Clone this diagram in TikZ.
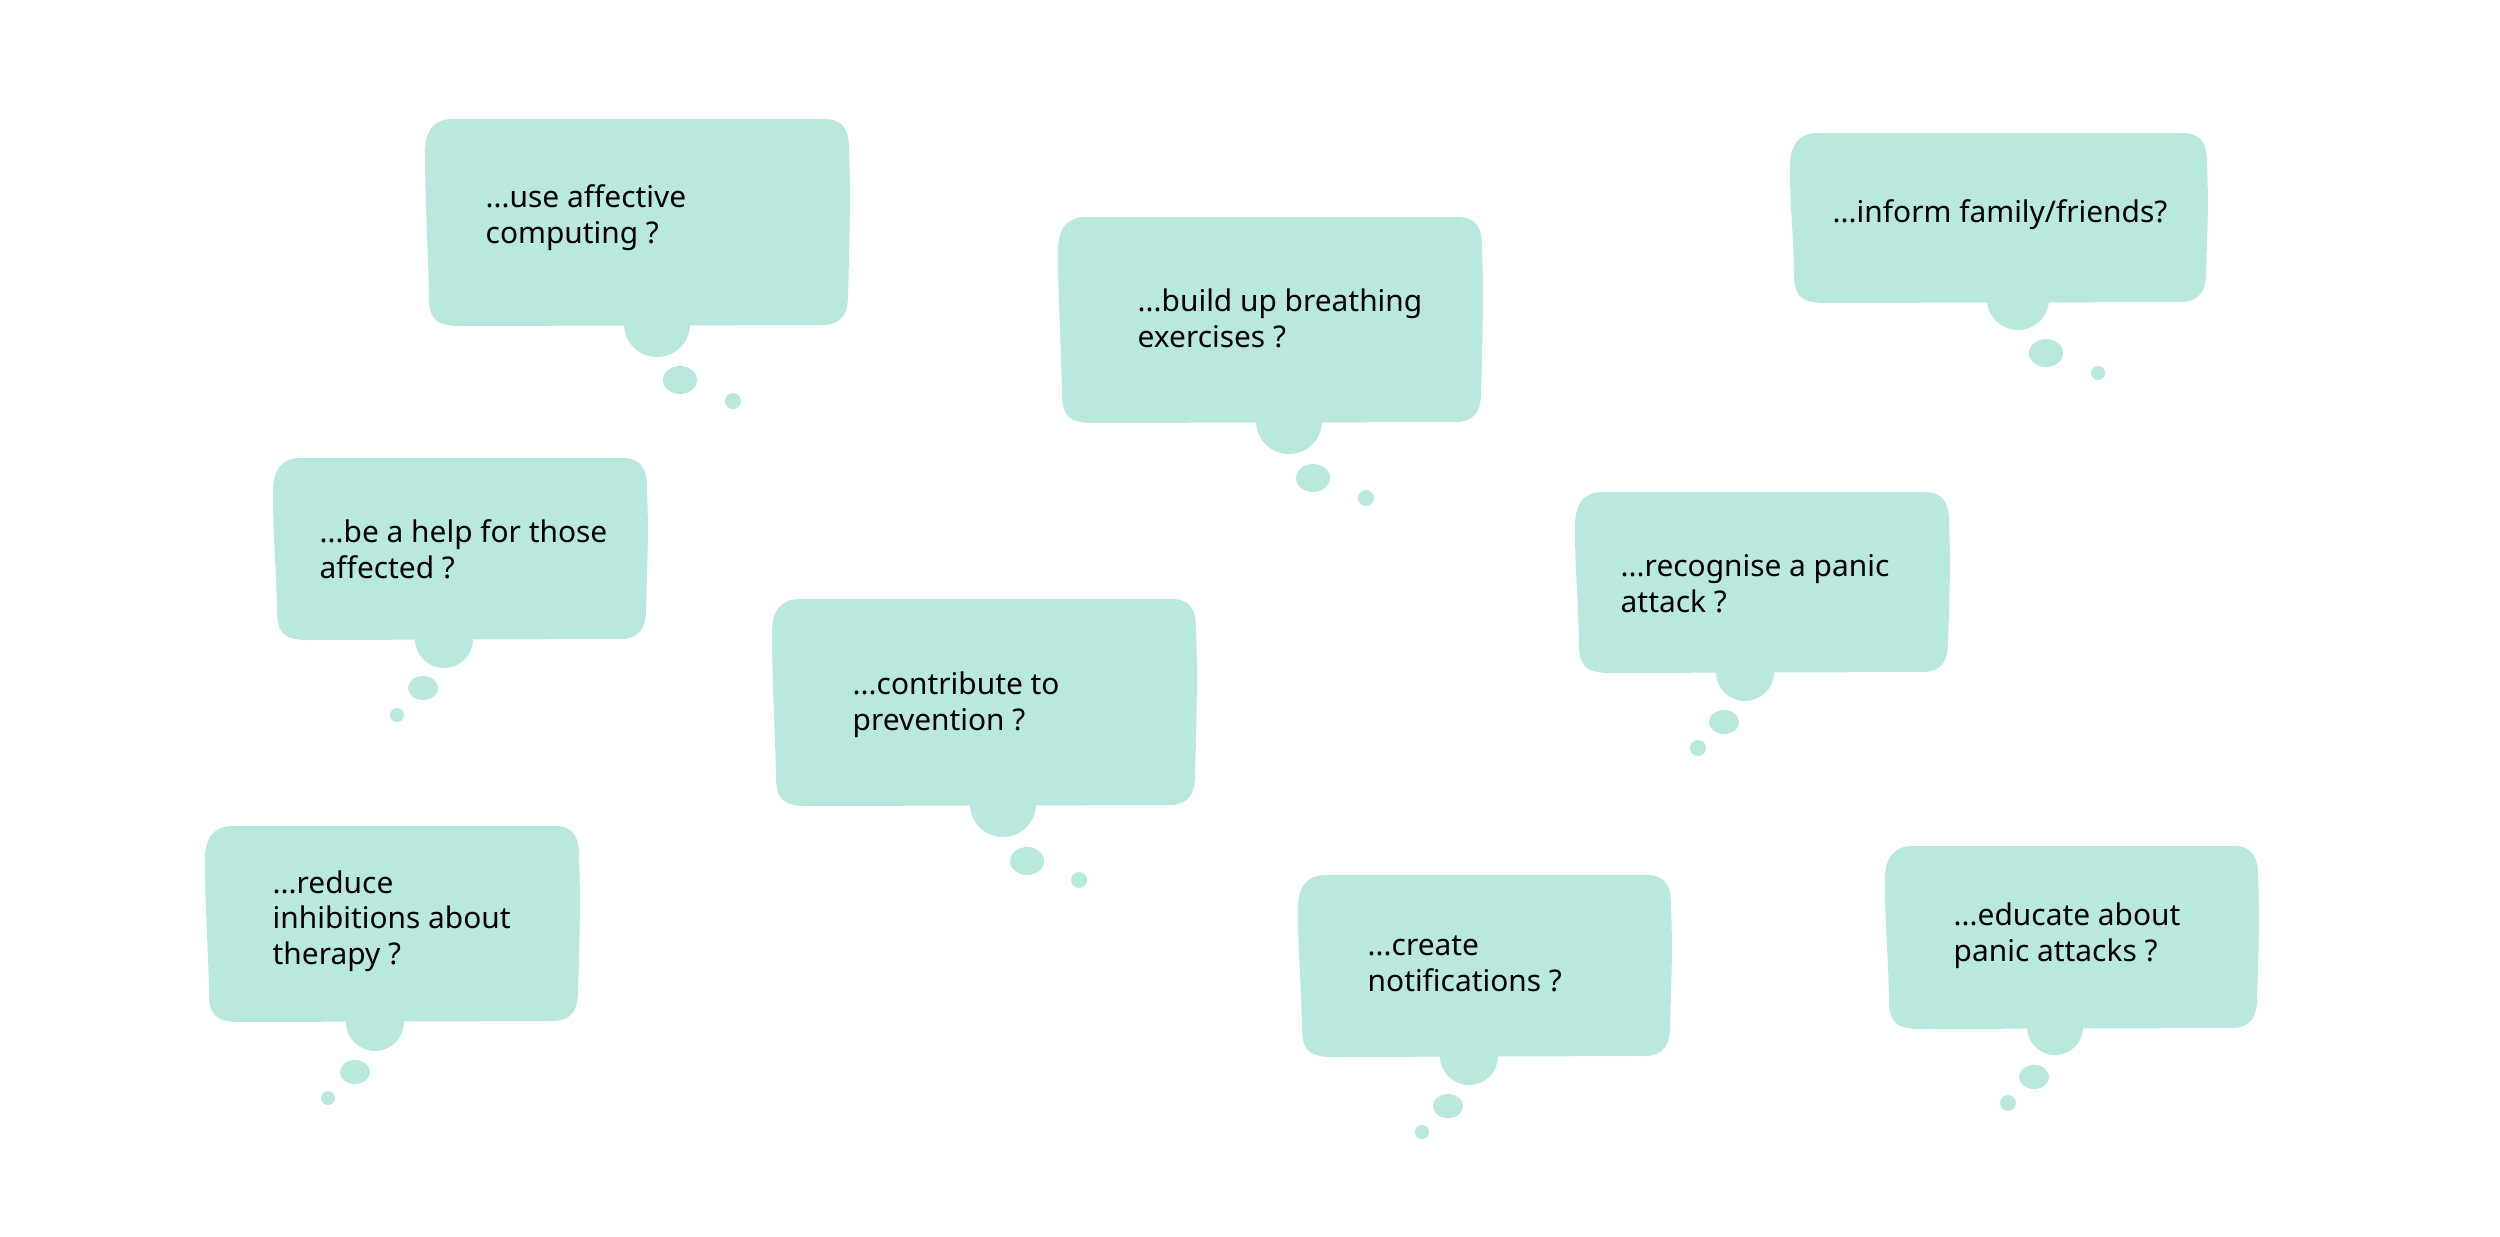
\documentclass[tikz,border=0pt]{standalone}
\usepackage{fontspec}
\setmainfont{Noto Sans}
\usepackage{tikz}
\definecolor{mint}{RGB}{185,232,222}
\tikzset{
  bubble/.style={fill=mint},
  question/.style={anchor=base west, align=left, inner sep=0pt, text=black,
                   font=\fontsize{8.5pt}{10.1pt}\selectfont}
}
\newcommand{\bubbox}[4]{%
  \fill[bubble] (#1+28,#2) -- (#3-26,#2)
    .. controls (#3-8,#2) and (#3-1,#2+9) .. (#3-1,#2+30)
    .. controls (#3+1,#2+80) and (#3-1,#4-70) .. (#3-2,#4-28)
    .. controls (#3-3,#4-6) and (#3-14,#4) .. (#3-32,#4-1)
    -- (#1+32,#4)
    .. controls (#1+10,#4-1) and (#1+4,#4-8) .. (#1+4,#4-30)
    .. controls (#1+3,#4-80) and (#1,#2+80) .. (#1,#2+34)
    .. controls (#1,#2+10) and (#1+10,#2) .. (#1+28,#2) -- cycle;}

\begin{document}
\begin{tikzpicture}[x=0.1mm, y=-0.1mm]
  \useasboundingbox (0,0) rectangle (2500,1236);

  \bubbox{425}{119}{850}{326}
  \fill[bubble] (657,324) circle[radius=33];
  \fill[bubble] (680,380) ellipse[x radius=17, y radius=14];
  \fill[bubble] (733,401) circle[radius=8];
  \node[question] (affect) at (485,243) {...use affective\\computing ?};

  \bubbox{1058}{217}{1483}{423}
  \fill[bubble] (1289,421) circle[radius=33];
  \fill[bubble] (1313,478) ellipse[x radius=17, y radius=14];
  \fill[bubble] (1366,498) circle[radius=8];
  \node[question] (breath) at (1137,347) {...build up breathing\\exercises ?};

  \bubbox{1790}{133}{2208}{303}
  \fill[bubble] (2018,299) circle[radius=31];
  \fill[bubble] (2046,353) ellipse[x radius=17, y radius=14];
  \fill[bubble] (2098,373) circle[radius=7];
  \node[question] (inform) at (1832,222) {...inform family/friends?};

  \bubbox{273}{458}{648}{640}
  \fill[bubble] (444,639) circle[radius=29];
  \fill[bubble] (423,688) ellipse[x radius=15, y radius=12];
  \fill[bubble] (397,715) circle[radius=7];
  \node[question] (help) at (319,578) {...be a help for those\\affected ?};

  \bubbox{772}{599}{1197}{806}
  \fill[bubble] (1003,804) circle[radius=33];
  \fill[bubble] (1027,861) ellipse[x radius=17, y radius=14];
  \fill[bubble] (1079,880) circle[radius=8];
  \node[question] (prevent) at (852,730) {...contribute to\\prevention ?};

  \bubbox{1575}{492}{1950}{673}
  \fill[bubble] (1745,672) circle[radius=29];
  \fill[bubble] (1724,722) ellipse[x radius=15, y radius=12];
  \fill[bubble] (1698,748) circle[radius=8];
  \node[question] (panic) at (1620,612) {...recognise a panic\\attack ?};

  \bubbox{205}{826}{580}{1022}
  \fill[bubble] (375,1022) circle[radius=29];
  \fill[bubble] (355,1072) ellipse[x radius=15, y radius=12];
  \fill[bubble] (328,1098) circle[radius=7];
  \node[question] (reduce) at (272,964) {...reduce\\inhibitions about\\therapy ?};

  \bubbox{1298}{875}{1672}{1057}
  \fill[bubble] (1469,1056) circle[radius=29];
  \fill[bubble] (1448,1106) ellipse[x radius=15, y radius=12];
  \fill[bubble] (1422,1132) circle[radius=7];
  \node[question] (notify) at (1367,991) {...create\\notifications ?};

  \bubbox{1885}{846}{2259}{1029}
  \fill[bubble] (2055,1027) circle[radius=28];
  \fill[bubble] (2034,1077) ellipse[x radius=15, y radius=12];
  \fill[bubble] (2008,1103) circle[radius=8];
  \node[question] (educate) at (1953,961) {...educate about\\panic attacks ?};
\end{tikzpicture}
\end{document}
